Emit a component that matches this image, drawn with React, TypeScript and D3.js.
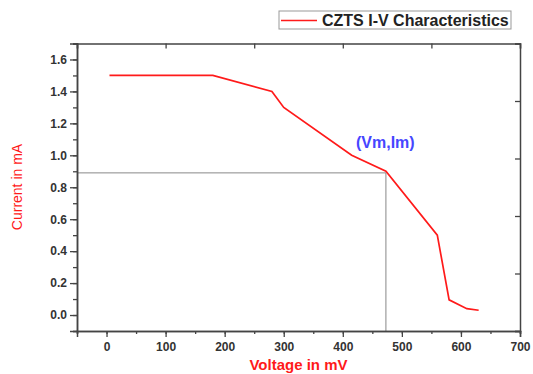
import React, { useEffect, useRef } from "react";
import * as d3 from "d3";

// I-V curve (mV, mA)
const voltage = [5, 180, 280, 300, 415, 473, 560, 580, 610, 630];
const current = [1.5, 1.5, 1.4, 1.3, 1.0, 0.9, 0.5, 0.095, 0.04, 0.03];

const xMajorTicks = [0, 100, 200, 300, 400, 500, 600, 700];
const yMajorTicks = [0, 0.2, 0.4, 0.6, 0.8, 1.0, 1.2, 1.4, 1.6];

// max power point guide lines
const vm = 473;
const im = 0.89;

const seriesName = "CZTS I-V Characteristics";
const xTitle = "Voltage in mV";
const yTitle = "Current in mA";
const pointLabel = "(Vm,Im)";

const FONT = "'Liberation Sans', Arial, sans-serif";

const App = () => {
  const ref = useRef<SVGSVGElement>(null);

  useEffect(() => {
    const width = 533;
    const height = 374;
    const left = 77;
    const right = 520;
    const top = 43.5;
    const bottom = 331;

    const svg = d3.select(ref.current);
    svg.selectAll("*").remove();
    svg.attr("width", width).attr("height", height);

    const x = d3.scaleLinear().domain([-50, 700]).range([left, right]);
    const y = d3.scaleLinear().domain([-0.1, 1.7]).range([bottom, top]);

    const axisColor = "#444";
    const labelColor = "#333";

    const styleAxis = (g: any) => {
      g.select(".domain").attr("stroke", axisColor).attr("stroke-width", 1.5);
      g.selectAll(".tick line").attr("stroke", axisColor).attr("stroke-width", 1.3);
      g.selectAll(".tick text")
        .attr("fill", labelColor)
        .style("font-family", FONT)
        .style("font-size", "12px")
        .style("font-weight", "bold");
    };

    // guide lines to (Vm, Im)
    svg
      .append("line")
      .attr("x1", left)
      .attr("x2", x(vm))
      .attr("y1", y(im))
      .attr("y2", y(im))
      .attr("stroke", "#888")
      .attr("stroke-width", 1);
    svg
      .append("line")
      .attr("x1", x(vm))
      .attr("x2", x(vm))
      .attr("y1", y(im))
      .attr("y2", bottom)
      .attr("stroke", "#888")
      .attr("stroke-width", 1);

    // bottom axis: minor then major
    svg
      .append("g")
      .attr("transform", `translate(0,${bottom})`)
      .call(d3.axisBottom(x).tickValues(d3.range(-50, 701, 50)).tickSize(3).tickFormat(() => ""))
      .call(styleAxis);
    svg
      .append("g")
      .attr("transform", `translate(0,${bottom})`)
      .call(d3.axisBottom(x).tickValues(xMajorTicks).tickSize(6).tickPadding(5).tickFormat(d3.format("d")))
      .call(styleAxis);

    // left axis
    svg
      .append("g")
      .attr("transform", `translate(${left},0)`)
      .call(d3.axisLeft(y).tickValues(d3.range(-0.1, 1.71, 0.1)).tickSize(4).tickFormat(() => ""))
      .call(styleAxis);
    svg
      .append("g")
      .attr("transform", `translate(${left},0)`)
      .call(d3.axisLeft(y).tickValues(yMajorTicks).tickSize(7).tickPadding(3).tickFormat(d3.format(".1f")))
      .call(styleAxis);

    // top and right axes with inward ticks, no labels
    const xTop = d3.scaleLinear().domain([0, 5]).range([left, right]);
    const yRight = d3.scaleLinear().domain([0, 5]).range([bottom, top]);
    svg
      .append("g")
      .attr("transform", `translate(0,${top})`)
      .call(d3.axisTop(xTop).ticks(5).tickSize(-5).tickFormat(() => ""))
      .call(styleAxis);
    svg
      .append("g")
      .attr("transform", `translate(${right},0)`)
      .call(d3.axisRight(yRight).ticks(5).tickSize(-5).tickFormat(() => ""))
      .call(styleAxis);

    // curve
    const pts = voltage.map((v, i) => [v, current[i]] as [number, number]);
    const line = d3
      .line<[number, number]>()
      .x((d) => x(d[0]))
      .y((d) => y(d[1]));
    svg
      .append("path")
      .datum(pts)
      .attr("d", line)
      .attr("fill", "none")
      .attr("stroke", "#ff1a1a")
      .attr("stroke-width", 1.7);

    // annotation
    svg
      .append("text")
      .attr("x", 356)
      .attr("y", 148)
      .attr("fill", "#4646ff")
      .style("font-family", FONT)
      .style("font-size", "16px")
      .style("font-weight", "bold")
      .text(pointLabel);

    // axis titles
    svg
      .append("text")
      .attr("x", (left + right) / 2)
      .attr("y", 370)
      .attr("text-anchor", "middle")
      .attr("fill", "#ff1a1a")
      .style("font-family", FONT)
      .style("font-size", "15px")
      .style("font-weight", "bold")
      .text(xTitle);
    svg
      .append("text")
      .attr("transform", "rotate(-90)")
      .attr("x", -187)
      .attr("y", 22)
      .attr("text-anchor", "middle")
      .attr("fill", "#ff1a1a")
      .style("font-family", FONT)
      .style("font-size", "14px")
      .text(yTitle);

    // legend
    const lg = svg.append("g");
    lg.append("rect")
      .attr("x", 279)
      .attr("y", 11)
      .attr("width", 232)
      .attr("height", 18)
      .attr("fill", "#fff")
      .attr("stroke", "#999")
      .attr("stroke-width", 1);
    lg.append("line")
      .attr("x1", 281)
      .attr("x2", 317)
      .attr("y1", 20.5)
      .attr("y2", 20.5)
      .attr("stroke", "#ff1a1a")
      .attr("stroke-width", 1.7);
    lg.append("text")
      .attr("x", 322)
      .attr("y", 26)
      .attr("fill", "#222")
      .style("font-family", FONT)
      .style("font-size", "16px")
      .style("font-weight", "bold")
      .text(seriesName);
  }, []);

  return <svg ref={ref} style={{ position: "absolute", left: 0, top: 0 }}></svg>;
};

export default App;
